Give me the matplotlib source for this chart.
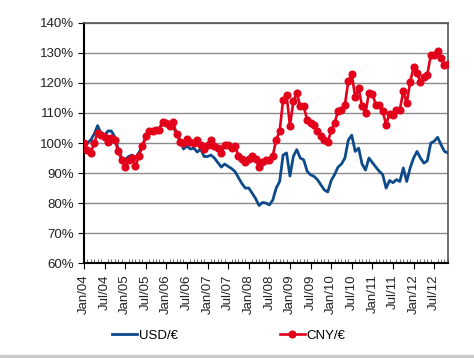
import numpy as np
import matplotlib
matplotlib.use('Agg')
import matplotlib.pyplot as plt
from matplotlib.patches import Rectangle

# monthly index values, Jan/04 .. Nov/12 (Jan/04 = 100%)
usd = [100, 100, 101, 103, 105.8, 103, 102.5, 104, 104, 102, 98, 95,
       94.4, 95.5, 96, 95, 96.7, 99, 101.7, 104, 104, 104.5, 105, 107,
       106, 105, 105, 103.3, 101, 98, 99, 98, 98.3, 97, 98, 95.5,
       95.5, 96, 95, 93.5, 92, 93, 92.2, 91.5, 90.5, 88.5, 86.5, 85,
       85, 83.3, 81.5, 79.2, 80.2, 80, 79.4, 81, 85, 87.2, 96, 96.7,
       89, 95.6, 97.8, 95, 94.4, 90.6, 89.4, 88.9, 87.8, 86.1, 84.4, 83.7,
       87.5, 89.5, 92, 93, 95, 101, 102.6, 97.2, 98.3, 93, 91, 95,
       93.5, 92, 90.6, 89.5, 85, 87.5, 86.8, 87.8, 87.2, 91.7, 87.2, 91.7,
       95, 97.2, 95, 93.3, 94.1, 100, 100.6, 101.9, 99.4, 97.2, 96.7]

cny = [100, 97.8, 96.7, 100, 103.3, 102.8, 102, 100.5, 101.7, 101, 97.2, 94.4,
       92, 94.4, 95, 92.2, 95.6, 99, 102.2, 103.9, 103.9, 104.4, 104.4, 107,
       106.7, 105.6, 107, 103, 100.5, 100, 101.5, 100.5, 100, 101, 99.5, 98,
       99.5, 101, 98.9, 98.3, 96.7, 99.4, 99.4, 98.3, 99.1, 95.6, 94.7, 93.6,
       94.7, 95.6, 94.7, 92, 93.6, 94.4, 94.4, 95.8, 101.1, 103.9, 114.4, 116.1,
       105.8, 113.9, 116.7, 112.2, 112.2, 107.8, 106.7, 106.1, 103.9, 102.2, 101.1, 100.2,
       104.2, 106.7, 110.7, 111, 112.8, 120.6, 123, 115.2, 118.2, 112.2, 110, 116.7,
       116.3, 112.8, 112.5, 110.7, 106.1, 109.8, 109.4, 111, 111.1, 117.2, 113.3, 120.3,
       125.2, 123.3, 120.3, 121.9, 122.8, 129.2, 129.2, 130.8, 128.3, 125.9, 126.3]

tick_labels = ['Jan/04', 'Jul/04', 'Jan/05', 'Jul/05', 'Jan/06', 'Jul/06',
               'Jan/07', 'Jul/07', 'Jan/08', 'Jul/08', 'Jan/09', 'Jul/09',
               'Jan/10', 'Jul/10', 'Jan/11', 'Jul/11', 'Jan/12', 'Jul/12']

plt.rcParams['font.family'] = ['Liberation Sans', 'DejaVu Sans']

months = np.arange(len(usd))

fig = plt.figure(figsize=(4.74, 3.58), dpi=100)
ax = fig.add_axes([0.177, 0.265, 0.768, 0.671])

ax.plot(months, usd, color='#0D4A8A', lw=2, label='USD/€', zorder=3)
ax.plot(months, cny, color='#E2001A', lw=1.9, marker='o', ms=4.8,
        label='CNY/€', zorder=4)

ax.set_xlim(0, len(usd) - 1)
ax.set_ylim(60, 140)
ax.set_yticks(np.arange(60, 141, 10))
ax.set_yticklabels(['%d%%' % v for v in range(60, 141, 10)], fontsize=9.5,
                   color='#222222')
ax.set_xticks(np.arange(0, 6 * len(tick_labels), 6))
ax.set_xticklabels(tick_labels, rotation=90, fontsize=9.5, color='#222222')
ax.set_xticks(months, minor=True)
ax.tick_params(axis='x', which='minor', direction='in', length=3, color='#555555')
ax.tick_params(axis='x', which='major', direction='out', length=4, pad=4)
ax.tick_params(axis='y', length=4, pad=3)

ax.yaxis.grid(True, color='#8C8C8C', lw=1)
ax.set_axisbelow(True)
for s in ['left', 'bottom']:
    ax.spines[s].set_color('black')
    ax.spines[s].set_linewidth(1.5)
for s in ['top', 'right']:
    ax.spines[s].set_color('#555555')
    ax.spines[s].set_linewidth(1.2)

fig.legend(loc='center', bbox_to_anchor=(0.483, 0.062), ncol=2, frameon=False,
           fontsize=9.5, columnspacing=7.7, handlelength=1.9, handletextpad=0.15)

fig.patches.append(Rectangle((0, 0), 1, 0.009, transform=fig.transFigure,
                             color='#C8C8C8', zorder=0))

fig.savefig('out.png', dpi=100)
